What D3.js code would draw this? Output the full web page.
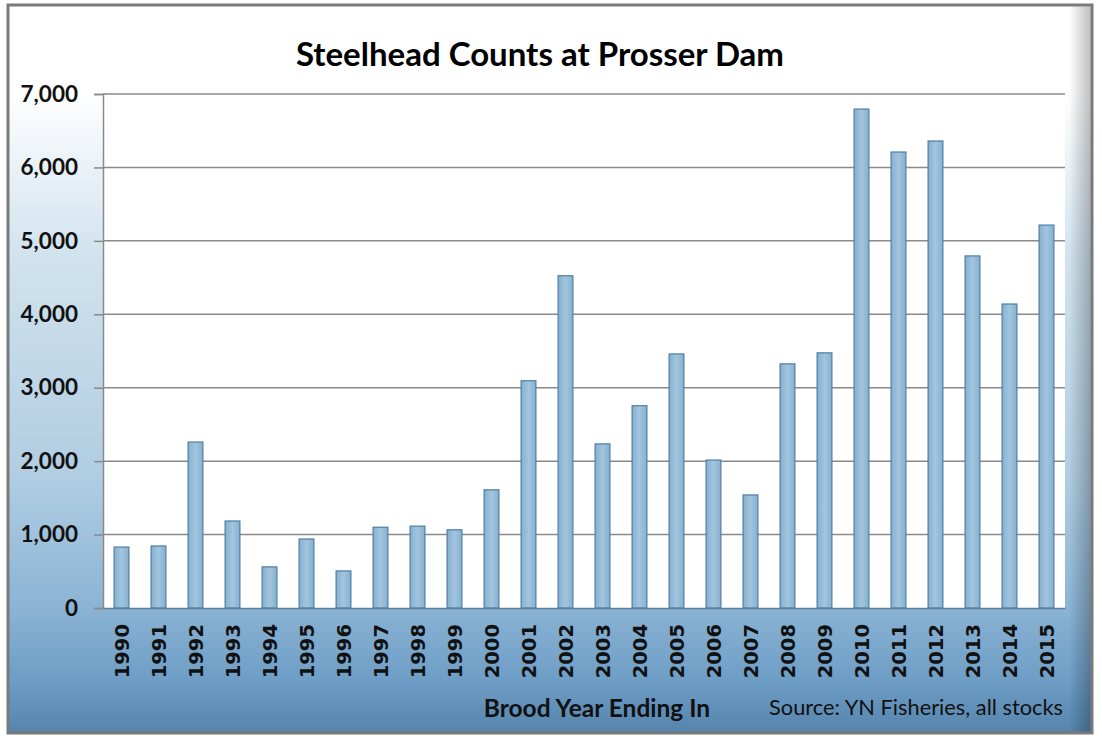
<!DOCTYPE html>
<html>
<head>
<meta charset="utf-8">
<script src="https://cdn.jsdelivr.net/npm/d3@7"></script>
<style>
	body { margin: 0; background: #fff; }
	svg { display: block; }
</style>
</head>
<body>
<svg id="chart" width="1102" height="738"></svg>
<script>
// values
const years = ['1990', '1991', '1992', '1993', '1994', '1995', '1996', '1997', '1998', '1999',
	'2000', '2001', '2002', '2003', '2004', '2005', '2006', '2007', '2008', '2009',
	'2010', '2011', '2012', '2013', '2014', '2015'];
const counts = [830, 845, 2260, 1185, 560, 940, 505, 1100, 1115, 1065,
	1610, 3095, 4525, 2235, 2755, 3460, 2015, 1540, 3325, 3475,
	6795, 6210, 6360, 4795, 4140, 5215];
const yTicks = [0, 1000, 2000, 3000, 4000, 5000, 6000, 7000];

const svg = d3.select('#chart');
const width = 1102, height = 738;
const margin = { top: 94, right: 37, bottom: 130, left: 103 };
const plotW = width - margin.left - margin.right;
const plotH = height - margin.top - margin.bottom;

const defs = svg.append('defs');

const bg = defs.append('linearGradient')
	.attr('id', 'bgGrad')
	.attr('x1', '0%').attr('x2', '0%')
	.attr('y1', '0%').attr('y2', '100%');
[['0%', '#ffffff'], ['12%', '#ffffff'], ['35%', '#d0e2ee'], ['65%', '#b0cde2'],
	['82%', '#8db5d5'], ['92%', '#709fc7'], ['100%', '#5585ad']]
	.forEach(s => bg.append('stop').attr('offset', s[0]).attr('stop-color', s[1]));

const side = defs.append('linearGradient')
	.attr('id', 'sideShade')
	.attr('x1', '0%').attr('x2', '100%')
	.attr('y1', '0%').attr('y2', '0%');
[['0%', '#000', 0], ['98%', '#000', 0], ['100%', '#000', 0.25]]
	.forEach(s => side.append('stop').attr('offset', s[0]).attr('stop-color', s[1]).attr('stop-opacity', s[2]));

const barGrad = defs.append('linearGradient')
	.attr('id', 'barGrad')
	.attr('x1', '0%').attr('x2', '100%')
	.attr('y1', '0%').attr('y2', '0%');
[['0%', '#86b0d0'], ['50%', '#a3c5de'], ['100%', '#86b0d0']]
	.forEach(s => barGrad.append('stop').attr('offset', s[0]).attr('stop-color', s[1]));

// chart frame
svg.append('rect')
	.attr('x', 8).attr('y', 5)
	.attr('width', 1084).attr('height', 728)
	.attr('fill', 'url(#bgGrad)')
	.attr('stroke', '#7a7a7a')
	.attr('stroke-width', 3);

svg.append('rect')
	.attr('x', 9.5).attr('y', 6.5)
	.attr('width', 1081).attr('height', 725)
	.attr('fill', 'url(#sideShade)');

const g = svg.append('g')
	.attr('transform', `translate(${margin.left},${margin.top})`);

g.append('rect')
	.attr('width', plotW)
	.attr('height', plotH)
	.attr('fill', '#ffffff');

const x = d3.scaleBand()
	.domain(years)
	.range([0, plotW])
	.paddingInner(0.6)
	.paddingOuter(0.3);

const y = d3.scaleLinear()
	.domain([0, 7000])
	.range([plotH, 0]);

// gridlines
g.append('g')
	.selectAll('line')
	.data(yTicks.filter(d => d > 0))
	.join('line')
	.attr('x1', 0).attr('x2', plotW)
	.attr('y1', d => y(d)).attr('y2', d => y(d))
	.attr('stroke', '#8a8a8a')
	.attr('stroke-width', 1.5);

// bars
g.append('g')
	.selectAll('rect')
	.data(counts)
	.join('rect')
	.attr('x', (d, i) => x(years[i]))
	.attr('y', d => y(d))
	.attr('width', x.bandwidth())
	.attr('height', d => plotH - y(d))
	.attr('fill', 'url(#barGrad)')
	.attr('stroke', '#4f7ea3')
	.attr('stroke-width', 1.2);

// y axis
const yAxis = g.append('g')
	.call(d3.axisLeft(y).tickValues(yTicks).tickFormat(d3.format(',')).tickSize(9).tickPadding(16));

yAxis.select('.domain')
	.attr('stroke', '#8a8a8a')
	.attr('stroke-width', 1.5);

yAxis.selectAll('.tick line')
	.attr('stroke', '#8a8a8a')
	.attr('stroke-width', 1.5);

yAxis.selectAll('.tick text')
	.attr('fill', '#111')
	.attr('font-family', 'Lato, sans-serif')
	.attr('font-weight', 'bold')
	.attr('font-size', 22.5);

// x axis
const xAxis = g.append('g')
	.attr('transform', `translate(0,${plotH})`)
	.call(d3.axisBottom(x).tickSize(0).tickPadding(14));

xAxis.select('.domain')
	.attr('stroke', '#5e7f99')
	.attr('stroke-width', 1.5);

xAxis.selectAll('.tick text')
	.attr('fill', '#111')
	.attr('font-family', 'DejaVu Sans, sans-serif')
	.attr('font-weight', 'bold')
	.attr('font-size', 19.5)
	.attr('text-anchor', 'end')
	.attr('dy', '0.36em')
	.attr('transform', 'rotate(-90) translate(-16,0)')
	.attr('x', 0)
	.attr('y', 0);

// titles
svg.append('text')
	.attr('x', 540).attr('y', 66)
	.attr('text-anchor', 'middle')
	.attr('font-family', 'Lato, sans-serif')
	.attr('font-weight', 'bold')
	.attr('font-size', 33)
	.attr('fill', '#000')
	.text('Steelhead Counts at Prosser Dam');

svg.append('text')
	.attr('x', 597).attr('y', 717)
	.attr('text-anchor', 'middle')
	.attr('font-family', 'Lato, sans-serif')
	.attr('font-weight', 'bold')
	.attr('font-size', 24.5)
	.attr('fill', '#111')
	.text('Brood Year Ending In');

svg.append('text')
	.attr('x', 1063).attr('y', 715)
	.attr('text-anchor', 'end')
	.attr('font-family', 'Lato, sans-serif')
	.attr('font-size', 21.8)
	.attr('fill', '#111')
	.text('Source: YN Fisheries, all stocks');
</script>
</body>
</html>
